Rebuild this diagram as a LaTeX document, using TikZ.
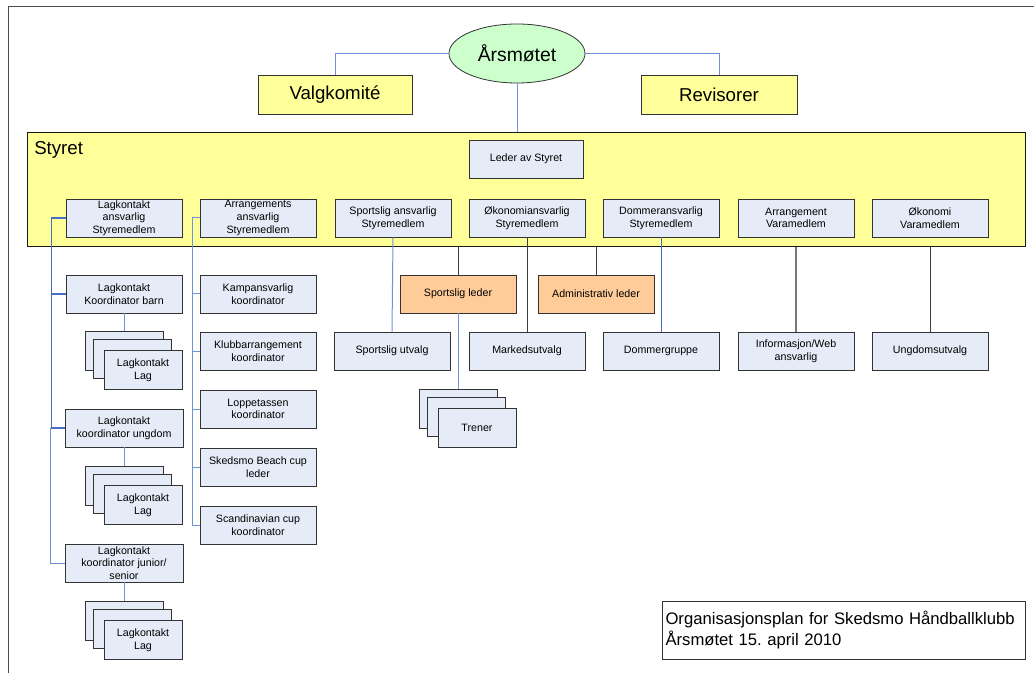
\documentclass[tikz,border=0pt]{standalone}
\usepackage{fontspec}
\setmainfont{Liberation Sans}
\usetikzlibrary{shapes.geometric}
\definecolor{boxfill}{HTML}{E6ECF7}
\definecolor{yellowfill}{HTML}{FFFF99}
\definecolor{orangefill}{HTML}{FFCC99}
\definecolor{greenfill}{HTML}{CCFFCC}
\definecolor{linkblue}{HTML}{6D94D6}
\definecolor{linkdark}{HTML}{4570C4}
\definecolor{linkgray}{HTML}{3C3C3C}
\hyphenpenalty 10000
\frenchspacing
\tikzset{
  member/.style={draw=black!80, fill=boxfill, line width=0.6pt, minimum width=87pt, minimum height=28.5pt, inner sep=0pt, align=center, font=\fontsize{8}{9.5}\selectfont},
  card/.style={member, minimum width=58.5pt, minimum height=29pt},
  leader/.style={member, fill=orangefill},
  organ/.style={draw=black!80, fill=yellowfill, line width=0.6pt, minimum width=115.5pt, minimum height=29.25pt, inner sep=0pt, font=\fontsize{14}{16}\selectfont},
  bluelink/.style={draw=linkblue, line width=0.75pt},
  darklink/.style={draw=linkdark, line width=1.1pt},
  graylink/.style={draw=linkgray, line width=0.75pt},
}
\begin{document}
\begin{tikzpicture}[x=0.75pt,y=-0.75pt]
\useasboundingbox (0,0) rectangle (1034,673);
\draw [black!70, line width=0.75pt] (1034,7) -- (8,7) -- (8,673);

\node[ellipse, draw=black!80, fill=greenfill, line width=0.6pt, minimum width=102pt, minimum height=44.25pt, inner sep=0pt, font=\fontsize{14.5}{16}\selectfont] (aarsmote) at (517,53.5) {Årsmøtet};
\node[organ] (valg) at (335,94.5) {Valgkomité};
\node[organ, minimum width=117pt] (revisor) at (719,94.5) {Revisorer};

\node[draw=black!90, fill=yellowfill, line width=0.75pt, minimum width=748.5pt, minimum height=85.5pt, inner sep=0pt] (styret) at (526,190) {};
\node[anchor=north west, inner sep=0pt, font=\fontsize{14}{16}\selectfont] (styretlabel) at (34,141) {Styret};
\node[member, minimum width=85.5pt] (leder) at (526,159) {Leder av Styret};

\draw [bluelink] (aarsmote.west) -| (valg.north);
\draw [bluelink] (aarsmote.east) -| (revisor.north);
\draw [bluelink] (aarsmote.south) -- (aarsmote.south |- styret.north);

\node[member] (lagansv) at (124,218) {Lagkontakt\\ansvarlig\\Styremedlem};
\node[member] (arransv) at (258,218) {Arrangements\\ansvarlig\\Styremedlem};
\node[member] (sportansv) at (393,218) {Sportslig ansvarlig\\Styremedlem};
\node[member] (oekansv) at (527,218) {Økonomiansvarlig\\Styremedlem};
\node[member] (domansv) at (661,218) {Dommeransvarlig\\Styremedlem};
\node[member] (arrvara) at (796,218) {Arrangement\\Varamedlem};
\node[member] (oekvara) at (930,218) {Økonomi\\Varamedlem};

\node[member] (barn) at (124,294) {Lagkontakt\\Koordinator barn};
\node[card] (barnlagc) at (124,351) {};
\node[card] (barnlagb) at (132,359) {};
\node[card] (barnlag) at (143,370) {Lagkontakt\\Lag};
\node[member, minimum width=88.5pt] (ungdom) at (124,428) {Lagkontakt\\koordinator ungdom};
\node[card] (ungdomlagc) at (124,486) {};
\node[card] (ungdomlagb) at (132,494) {};
\node[card] (ungdomlag) at (143,505) {Lagkontakt\\Lag};
\node[member, minimum width=88.5pt] (junior) at (124,563) {Lagkontakt\\koordinator junior/\\senior};
\node[card] (juniorlagc) at (124,621) {};
\node[card] (juniorlagb) at (132,629) {};
\node[card] (juniorlag) at (143,640) {Lagkontakt\\Lag};

\draw [darklink] (lagansv.west) -- ++(-14,0) |- (ungdom.west);
\draw [darklink] (barn.west) -- ++(-14,0);
\draw [bluelink] (ungdom.west) ++(-14,0) |- (junior.west);
\draw [bluelink] (barn.south) -- (barnlagc.north);
\draw [bluelink] (ungdom.south) -- (ungdomlagc.north);
\draw [bluelink] (junior.south) -- (juniorlagc.north);

\node[member] (kamp) at (258,294) {Kampansvarlig\\koordinator};
\node[member] (klubb) at (258,351) {Klubbarrangement\\koordinator};
\node[member] (loppe) at (258,409) {Loppetassen\\koordinator};
\node[member] (beach) at (258,467) {Skedsmo Beach cup\\leder};
\node[member] (scand) at (258,525) {Scandinavian cup\\koordinator};

\draw [bluelink] (arransv.west) -- ++(-7,0) |- (scand.west);
\draw [bluelink] (kamp.west) -- ++(-7,0);
\draw [bluelink] (klubb.west) -- ++(-7,0);
\draw [bluelink] (loppe.west) -- ++(-7,0);
\draw [bluelink] (beach.west) -- ++(-7,0);

\node[leader] (sportleder) at (458,294) {Sportslig leder};
\node[leader] (admleder) at (596,294) {Administrativ leder};
\node[member] (sportutv) at (392,351) {Sportslig utvalg};
\node[member] (marked) at (527,351) {Markedsutvalg};
\node[member] (domgr) at (661,351) {Dommergruppe};
\node[member] (info) at (796,351) {Informasjon/Web\\ansvarlig};
\node[member] (ungutv) at (930,351) {Ungdomsutvalg};
\node[card] (trenerc) at (458,409) {};
\node[card] (trenerb) at (466,417) {};
\node[card] (trener) at (477,428) {Trener};

\draw [graylink] (sportleder.north) -- (sportleder.north |- styret.south);
\draw [graylink] (admleder.north) -- (admleder.north |- styret.south);
\draw [graylink] (oekansv.south) -- (marked.north);
\draw [linkgray!70, line width=1.1pt] (info.north) -- (info.north |- styret.south);
\draw [graylink] (ungutv.north) -- (ungutv.north |- styret.south);
\draw [bluelink] (sportansv.south) -- (sportutv.north);
\draw [draw=linkdark, line width=0.6pt] (domansv.south) -- (domgr.north);
\draw [bluelink] (sportleder.south) -- (trenerc.north);

\node[draw=black!80, line width=0.6pt, fill=white, minimum width=272.25pt, minimum height=43.5pt, inner xsep=2.5pt, inner ysep=0pt, text width=267pt, align=left, font=\fontsize{12.5}{15.75}\selectfont] (title) at (843.5,630) {Organisasjonsplan for Skedsmo Håndballklubb\\Årsmøtet 15. april 2010};
\end{tikzpicture}
\end{document}
